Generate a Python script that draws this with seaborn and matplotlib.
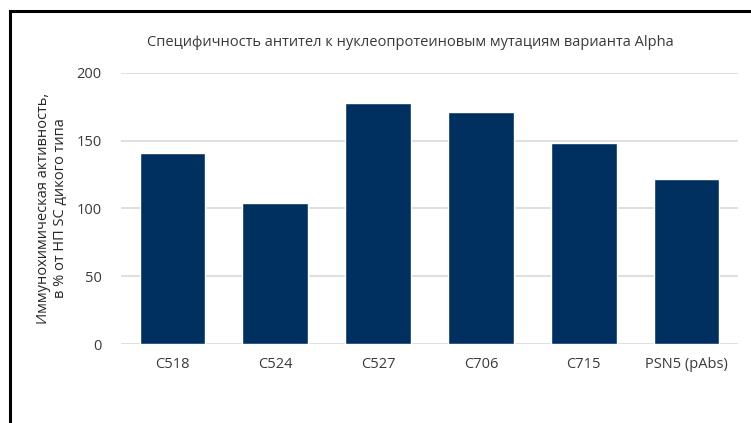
import matplotlib
matplotlib.use("Agg")
import matplotlib.pyplot as plt
from matplotlib.lines import Line2D
import seaborn as sns
import pandas as pd

# Data
categories = ["C518", "C524", "C527", "C706", "C715", "PSN5 (pAbs)"]
activity = [141, 104, 178, 171, 148, 122]
y_ticks = [0, 50, 100, 150, 200]

title = "Специфичность антител к нуклеопротеиновым мутациям варианта Alpha"
y_label = "Иммунохимическая активность,\nв % от НП SC дикого типа"

sns.set_theme(style="white")
plt.rcParams["font.family"] = ["Liberation Sans Narrow", "Open Sans", "DejaVu Sans"]

df = pd.DataFrame({"category": categories, "activity": activity})

fig = plt.figure(figsize=(7.51, 4.23), dpi=100)
ax = fig.add_axes([121 / 751, 1 - 344 / 423, (738 - 121) / 751, (344 - 72.7) / 423])

sns.barplot(data=df, x="category", y="activity", color="#00305f",
            saturation=1, width=0.64, ax=ax, zorder=3)

ax.set_xlim(-0.5, len(categories) - 0.5)
ax.set_ylim(0, 200)
ax.set_yticks(y_ticks)
ax.yaxis.grid(True, color="#d9d9d9", linewidth=1.2, zorder=0)
ax.xaxis.grid(False)
for s in ax.spines.values():
    s.set_visible(False)
ax.tick_params(axis="both", length=0, labelsize=10.5, colors="#3a3a3a")
ax.tick_params(axis="x", pad=9)
ax.tick_params(axis="y", pad=14)
ax.set_xlabel("")
ax.set_ylabel("")

fig.text(52 / 751, 1 - 208 / 423, y_label, rotation=90, ha="center", va="center",
         fontsize=10.5, color="#262626", linespacing=1.1)
fig.text(410 / 751, 1 - 42 / 423, title, ha="center", va="center",
         fontsize=10.5, color="#3a3a3a")

# Frame around the chart area
fig.add_artist(Line2D([9.5 / 751, 9.5 / 751], [0, 1 - 11 / 423],
                      transform=fig.transFigure, color="black", linewidth=2.2,
                      solid_capstyle="projecting"))
fig.add_artist(Line2D([9.5 / 751, 1], [1 - 11 / 423, 1 - 11 / 423],
                      transform=fig.transFigure, color="black", linewidth=2.2,
                      solid_capstyle="projecting"))

fig.savefig("out.png", dpi=100, facecolor="white")
